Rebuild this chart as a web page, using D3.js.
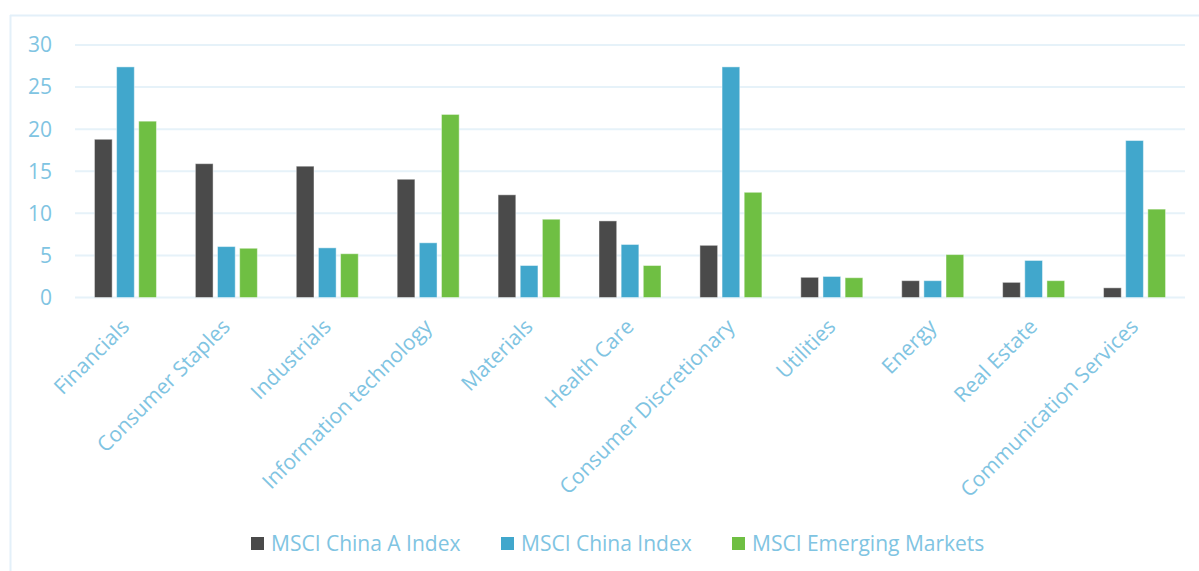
<!DOCTYPE html>
<html>
<head>
<meta charset="utf-8">
<script src="https://cdn.jsdelivr.net/npm/d3@7"></script>
<style>
  body { margin: 0; background: #fff; }
  svg text { font-family: "Open Sans", sans-serif; fill: #80c4e2; }
</style>
</head>
<body>
<svg id="chart" width="1199" height="571"></svg>
<script>
// sector weights (%)
var categories = ['Financials', 'Consumer Staples', 'Industrials', 'Information technology',
  'Materials', 'Health Care', 'Consumer Discretionary', 'Utilities', 'Energy',
  'Real Estate', 'Communication Services'];
var seriesNames = ['MSCI China A Index', 'MSCI China Index', 'MSCI Emerging Markets'];
var chinaA = [18.8, 15.9, 15.6, 14.05, 12.2, 9.1, 6.2, 2.4, 2.0, 1.8, 1.15];
var china = [27.4, 6.05, 5.9, 6.5, 3.8, 6.3, 27.4, 2.5, 2.0, 4.4, 18.65];
var em = [20.95, 5.85, 5.2, 21.75, 9.3, 3.8, 12.5, 2.35, 5.1, 2.0, 10.5];
var yTicks = [0, 5, 10, 15, 20, 25, 30];
var colors = ['#4a4a4a', '#41a7cc', '#6fbf43'];

var svg = d3.select('svg#chart');

// outer frame (only top and left edges show)
svg.append('line').attr('x1', 10).attr('x2', 1199).attr('y1', 15.5).attr('y2', 15.5)
  .attr('stroke', '#e3f0f9').attr('stroke-width', 2);
svg.append('line').attr('x1', 10.5).attr('x2', 10.5).attr('y1', 15).attr('y2', 571)
  .attr('stroke', '#e3f0f9').attr('stroke-width', 2);

var x0 = d3.scaleBand().domain(categories).range([75, 1185]);
var x1 = d3.scaleBand().domain(seriesNames).range([-31, 31]).paddingInner(0.2);
var y = d3.scaleLinear().domain([0, 30]).range([297.5, 45]);

// grid
svg.append('g').selectAll('line').data(yTicks).enter().append('line')
  .attr('x1', 75).attr('x2', 1185)
  .attr('y1', function(d) { return y(d); })
  .attr('y2', function(d) { return y(d); })
  .attr('stroke', '#e6f2f9').attr('stroke-width', 2);

// y axis labels
svg.append('g').selectAll('text').data(yTicks).enter().append('text')
  .attr('x', 52)
  .attr('y', function(d) { return y(d); })
  .attr('dy', '0.35em')
  .attr('text-anchor', 'end')
  .style('font-size', '21px')
  .text(function(d) { return d; });

// bars
var allSeries = [chinaA, china, em];
allSeries.forEach(function(vals, s) {
  svg.append('g').selectAll('rect').data(vals).enter().append('rect')
    .attr('x', function(d, i) { return x0(categories[i]) + x0.bandwidth() / 2 + x1(seriesNames[s]); })
    .attr('y', function(d) { return y(d); })
    .attr('width', x1.bandwidth())
    .attr('height', function(d) { return y(0) - y(d); })
    .attr('fill', colors[s])
    .attr('stroke', '#fff')
    .attr('stroke-opacity', 0.45)
    .attr('stroke-width', 1);
});

// category labels, rotated
svg.append('g').selectAll('text').data(categories).enter().append('text')
  .attr('transform', function(d) {
    var cx = x0(d) + x0.bandwidth() / 2;
    return 'translate(' + (cx + 5) + ',' + 328 + ') rotate(-45)';
  })
  .attr('text-anchor', 'end')
  .style('font-size', '21px')
  .text(function(d) { return d; });

// legend
var legendX = [251, 501, 732];
seriesNames.forEach(function(name, s) {
  svg.append('rect')
    .attr('x', legendX[s]).attr('y', 537)
    .attr('width', 13).attr('height', 13)
    .attr('fill', colors[s]);
  svg.append('text')
    .attr('x', legendX[s] + 20).attr('y', 543.5)
    .attr('dy', '0.35em')
    .style('font-size', '21px')
    .text(name);
});
</script>
</body>
</html>
